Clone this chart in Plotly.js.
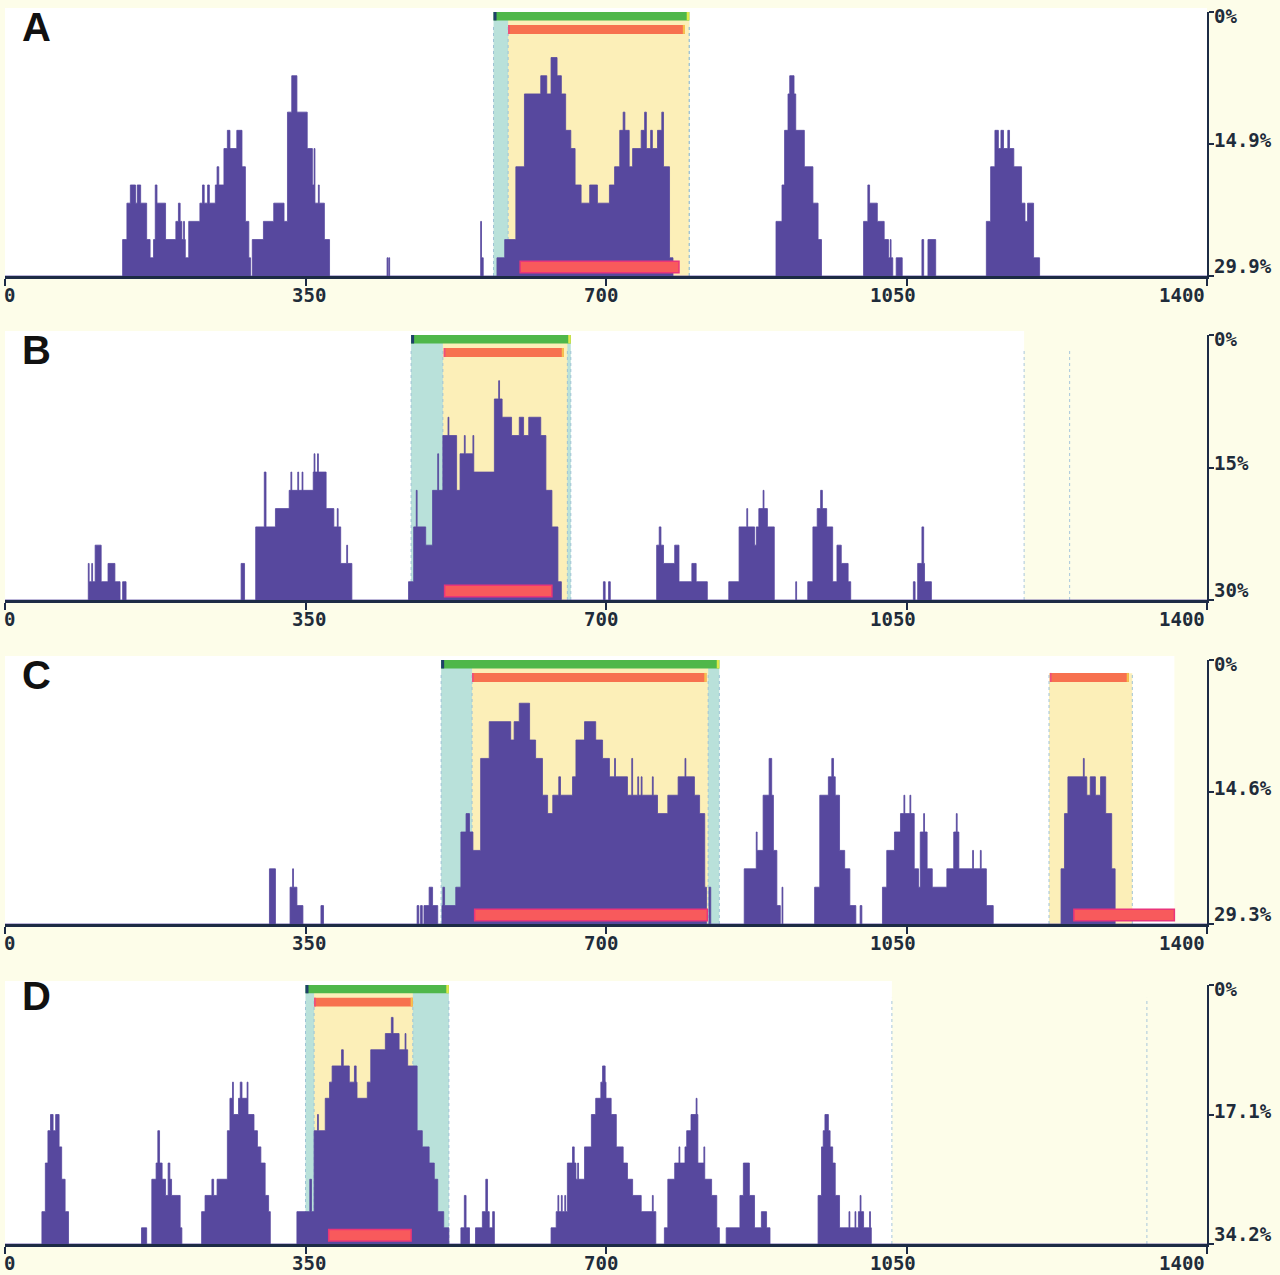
<!DOCTYPE html>
<html><head><meta charset="utf-8">
<script src="https://cdn.plot.ly/plotly-3.0.1.min.js"></script>
<style>html,body{margin:0;padding:0;background:#fdfde9;overflow:hidden}#chart{width:1280px;height:1275px}</style>
</head><body><div id="chart"></div>
<script>
// ---------- DATA ----------
// step histograms: [sequence position where a step starts, count of sequences from there]
const A_steps = [[0,0],[137,2],[142,4],[146,5],[152,4],[154,5],[158,4],[165,2],[169,1],[173,2],[175,5],[177,4],[187,2],[199,3],[202,4],[204,3],[206,2],[208,3],[209,2],[210,1],[214,3],[227,4],[230,5],[232,4],[236,5],[238,4],[245,5],[247,6],[249,5],[255,7],[259,8],[262,7],[270,8],[276,6],[280,3],[284,1],[286,0],[288,2],[301,3],[313,4],[325,3],[329,9],[334,11],[340,9],[352,7],[358,5],[360,7],[361,4],[365,5],[366,4],[372,2],[378,0],[445,1],[446,0],[447,1],[448,0],[554,3],[555,1],[557,0],[573,1],[582,2],[595,6],[605,10],[624,11],[631,10],[636,12],[643,11],[648,10],[653,8],[659,7],[664,5],[671,4],[681,5],[690,4],[704,5],[710,6],[716,8],[720,9],[722,8],[727,6],[731,7],[741,8],[745,9],[747,7],[752,8],[754,7],[760,8],[765,9],[767,6],[774,1],[778,0],[898,3],[905,5],[908,8],[912,10],[914,11],[919,10],[921,8],[931,6],[941,4],[947,2],[951,0],[1000,3],[1005,5],[1007,4],[1016,3],[1024,2],[1029,1],[1031,2],[1032,1],[1034,0],[1038,1],[1045,0],[1068,2],[1070,0],[1075,2],[1084,0],[1143,3],[1148,6],[1153,8],[1157,7],[1160,8],[1163,7],[1168,8],[1170,7],[1175,6],[1184,4],[1188,3],[1191,4],[1198,1],[1205,0],[1400,0]];
const B_steps = [[0,0],[97,2],[98,1],[101,2],[102,1],[105,3],[112,1],[120,2],[128,1],[134,0],[137,1],[141,0],[275,2],[279,0],[292,4],[302,7],[304,4],[315,5],[331,6],[333,7],[334,6],[341,7],[342,6],[346,7],[347,6],[359,7],[360,8],[361,7],[364,8],[365,7],[374,5],[383,4],[387,5],[388,4],[391,2],[398,3],[399,2],[404,0],[470,1],[476,4],[479,6],[480,4],[490,3],[498,6],[504,8],[505,6],[510,9],[516,10],[517,9],[526,6],[530,8],[535,9],[536,8],[545,9],[546,7],[570,11],[575,12],[576,11],[579,10],[590,9],[599,10],[604,9],[610,10],[624,9],[630,6],[637,4],[644,1],[648,0],[697,1],[699,0],[703,1],[705,0],[759,3],[762,4],[764,3],[767,2],[780,3],[785,1],[800,2],[805,1],[818,0],[843,1],[855,4],[864,5],[865,4],[873,3],[875,4],[878,5],[883,6],[884,5],[888,4],[896,0],[921,1],[922,0],[935,1],[941,4],[946,5],[950,6],[952,5],[957,4],[964,1],[969,3],[974,2],[982,1],[985,0],[1058,1],[1060,0],[1063,2],[1068,4],[1070,2],[1071,1],[1079,0],[1400,0]];
const C_steps = [[0,0],[308,3],[315,0],[332,2],[335,3],[336,2],[340,1],[347,0],[368,1],[371,0],[480,1],[482,0],[484,1],[486,0],[488,1],[494,2],[498,1],[504,0],[509,1],[510,2],[512,1],[525,2],[531,5],[537,6],[541,5],[545,4],[554,9],[564,11],[589,10],[593,11],[599,12],[611,10],[618,9],[626,7],[632,6],[638,7],[645,8],[647,7],[661,8],[665,10],[675,11],[688,10],[696,9],[704,8],[710,9],[711,8],[725,7],[730,9],[731,7],[737,8],[738,7],[741,8],[742,7],[754,8],[755,7],[760,6],[772,7],[784,8],[792,9],[793,8],[803,7],[809,6],[815,2],[817,0],[820,2],[822,0],[861,3],[875,5],[876,4],[883,7],[890,9],[893,7],[895,4],[899,1],[903,0],[905,2],[906,0],[943,2],[949,7],[959,8],[963,9],[965,8],[967,7],[972,4],[978,3],[984,1],[991,0],[996,1],[998,0],[1022,2],[1027,4],[1036,5],[1043,6],[1047,7],[1048,6],[1054,7],[1055,6],[1059,3],[1064,2],[1066,5],[1070,6],[1071,5],[1074,3],[1080,2],[1097,3],[1105,5],[1108,6],[1109,5],[1111,3],[1127,4],[1128,3],[1136,4],[1137,3],[1143,1],[1151,0],[1230,3],[1234,6],[1238,8],[1256,9],[1257,8],[1260,7],[1264,8],[1270,7],[1276,8],[1282,6],[1289,3],[1293,0],[1400,0]];
const D_steps = [[0,0],[43,2],[47,5],[50,7],[53,8],[56,7],[59,8],[63,6],[66,4],[70,2],[74,0],[159,1],[165,0],[171,4],[176,5],[178,7],[180,5],[183,4],[187,3],[190,5],[192,4],[194,3],[204,1],[206,0],[229,2],[233,3],[241,4],[243,3],[247,4],[259,7],[262,9],[265,10],[266,8],[272,9],[274,10],[276,9],[282,10],[283,8],[290,7],[294,6],[298,5],[303,3],[307,2],[309,0],[340,2],[355,4],[357,2],[360,7],[364,8],[365,7],[373,9],[378,10],[381,11],[392,12],[394,11],[401,10],[407,11],[409,10],[410,9],[422,10],[426,12],[443,13],[450,14],[452,13],[459,12],[466,13],[467,12],[469,11],[480,7],[486,6],[494,5],[500,4],[504,2],[511,1],[517,0],[531,1],[535,3],[537,1],[541,0],[548,1],[556,2],[560,4],[562,2],[564,1],[568,2],[570,0],[636,1],[642,2],[644,3],[645,2],[648,3],[649,2],[652,3],[653,2],[655,5],[661,6],[663,5],[665,4],[667,5],[668,4],[675,6],[683,8],[688,9],[694,10],[696,11],[699,10],[700,9],[706,8],[712,6],[720,5],[725,4],[731,3],[741,2],[754,3],[755,2],[758,0],[768,1],[772,4],[780,5],[785,6],[786,5],[792,6],[794,7],[799,8],[805,9],[806,8],[807,5],[814,6],[815,4],[823,3],[829,1],[832,0],[840,1],[856,3],[860,5],[867,3],[873,1],[881,2],[887,1],[891,0],[947,3],[951,6],[953,7],[955,8],[959,7],[961,6],[964,5],[967,3],[972,1],[983,2],[984,1],[990,2],[991,1],[994,2],[996,3],[997,2],[1000,1],[1007,2],[1008,1],[1009,0],[1400,0]];

// axis extents (in sequence counts) and sequence lengths
const A_max = 14.5, B_max = 14.5, C_max = 14.35, D_max = 16.0;
const A_len = 1400, B_len = 1187, C_len = 1362, D_len = 1033;
const B_extraMarks = [1187, 1240];
const D_extraMarks = [1033, 1330];

// annotated regions: outer (green bar), core (yellow), top bar (orange), low bar (red)
const A_outer = [569, 797], A_core = [586, 797], A_top = [586, 792], A_low = [600, 785];
const B_outer = [473, 659], B_core = [510, 655], B_top = [511, 651], B_low = [512, 637];
const C_outer = [508, 832], C_core = [544, 819], C_top = [544, 817], C_low = [547, 818];
const C2_core = [1216, 1313], C2_top = [1217, 1309], C2_low = [1245, 1362];
const D_outer = [350, 517], D_core = [360, 475], D_top = [360, 475], D_low = [377, 473];

// tick labels
const xTickVals = [0, 350, 700, 1050, 1400];
const xTickText = ['0', '350', '700', '1050', '1400'];
const A_yTickText = ['0%', '14.9%', '29.9%'];
const B_yTickText = ['0%', '15%', '30%'];
const C_yTickText = ['0%', '14.6%', '29.3%'];
const D_yTickText = ['0%', '17.1%', '34.2%'];
const panelLetters = ['A', 'B', 'C', 'D'];

// ---------- LAYOUT ----------
const W = 1280, H = 1275;
const geom = [ {top: 12, base: 276}, {top: 335, base: 600}, {top: 660, base: 924}, {top: 985, base: 1244} ];
const xDom = [5 / W, 1207 / W];
const axisColor = '#1d2b45';
const labelFont = {family: 'DejaVu Sans Mono, monospace', size: 19, color: '#1f2c3a', weight: 'bold'};
const C_bar = '#57489e';

const panels = [
  {steps: A_steps, max: A_max, len: A_len, marks: [], yt: A_yTickText, regions: [{outer: A_outer, core: A_core, top: A_top, low: A_low}]},
  {steps: B_steps, max: B_max, len: B_len, marks: B_extraMarks, yt: B_yTickText, regions: [{outer: B_outer, core: B_core, top: B_top, low: B_low}]},
  {steps: C_steps, max: C_max, len: C_len, marks: [], yt: C_yTickText, regions: [{outer: C_outer, core: C_core, top: C_top, low: C_low}, {outer: null, core: C2_core, top: C2_top, low: C2_low}]},
  {steps: D_steps, max: D_max, len: D_len, marks: D_extraMarks, yt: D_yTickText, regions: [{outer: D_outer, core: D_core, top: D_top, low: D_low}]}
];

const data = [];
const layout = {
  width: W, height: H, margin: {l: 0, r: 0, t: 0, b: 0},
  paper_bgcolor: '#fdfde9', plot_bgcolor: '#fdfde9',
  showlegend: false, shapes: [], annotations: []
};
const xLabelAnchor = ['left', 'center', 'center', 'center', 'right'];
const xLabelShift = [-3, 3, -5, -14, 0];

panels.forEach((p, i) => {
  const n = i + 1;
  const xs = n === 1 ? 'x' : 'x' + n;
  const ys = n === 1 ? 'y' : 'y' + n;
  const g = geom[i];
  const yDom = [1 - g.base / H, 1 - g.top / H];
  layout[n === 1 ? 'xaxis' : 'xaxis' + n] = {
    domain: xDom, range: [0, 1400], anchor: ys, showline: true, linecolor: axisColor, linewidth: 2.5,
    ticks: 'outside', tickvals: xTickVals, ticklen: 7, tickwidth: 2, tickcolor: axisColor,
    showticklabels: false, showgrid: false, zeroline: false, fixedrange: true
  };
  layout[n === 1 ? 'yaxis' : 'yaxis' + n] = {
    domain: yDom, range: [0, p.max], anchor: xs, side: 'right', showline: true, linecolor: axisColor, linewidth: 2,
    ticks: 'outside', tickvals: [0, p.max / 2, p.max], ticklen: 5, tickwidth: 2, tickcolor: axisColor,
    showticklabels: false, showgrid: false, zeroline: false, fixedrange: true
  };
  data.push({
    type: 'scatter', mode: 'lines', xaxis: xs, yaxis: ys,
    x: p.steps.map(s => s[0]), y: p.steps.map(s => s[1]),
    line: {shape: 'hv', width: 0.8, color: C_bar}, fill: 'tozeroy', fillcolor: C_bar, hoverinfo: 'skip'
  });
  const yd = ys + ' domain';
  const S = layout.shapes;
  // white sequence background
  S.push({type: 'rect', xref: xs, yref: yd, x0: 0, x1: p.len, y0: 0, y1: 1.015, fillcolor: '#ffffff', line: {width: 0}, layer: 'below'});
  p.regions.forEach(r => {
    if (r.outer) S.push({type: 'rect', xref: xs, yref: yd, x0: r.outer[0], x1: r.outer[1], y0: 0, y1: 1, fillcolor: '#b9e1da', line: {width: 0}, layer: 'below'});
    S.push({type: 'rect', xref: xs, yref: yd, x0: r.core[0], x1: r.core[1], y0: 0, y1: r.outer ? 1 : 0.95, fillcolor: '#fcefb8', line: {width: 0}, layer: 'below'});
    const bounds = r.outer ? [r.outer[0], r.core[0], r.core[1], r.outer[1]] : [r.core[0], r.core[1]];
    bounds.forEach(b => S.push({type: 'line', xref: xs, yref: yd, x0: b, x1: b, y0: 0, y1: 0.95, line: {color: '#9ec3d6', width: 1, dash: 'dot'}, layer: 'below'}));
    if (r.outer) {
      S.push({type: 'rect', xref: xs, yref: yd, x0: r.outer[0], x1: r.outer[1], y0: 0.968, y1: 1.0, fillcolor: '#4fb74a', line: {width: 0}, layer: 'above'});
      S.push({type: 'rect', xref: xs, yref: yd, x0: r.outer[0], x1: r.outer[0] + 3.5, y0: 0.968, y1: 1.0, fillcolor: '#1f3f6a', line: {width: 0}, layer: 'above'});
      S.push({type: 'rect', xref: xs, yref: yd, x0: r.outer[1] - 3, x1: r.outer[1], y0: 0.968, y1: 1.0, fillcolor: '#dfe94a', line: {width: 0}, layer: 'above'});
    }
    S.push({type: 'rect', xref: xs, yref: yd, x0: r.top[0], x1: r.top[1], y0: 0.917, y1: 0.951, fillcolor: '#f7714f', line: {width: 0}, layer: 'above'});
    S.push({type: 'rect', xref: xs, yref: yd, x0: r.top[0], x1: r.top[0] + 2, y0: 0.917, y1: 0.951, fillcolor: '#ee4f7c', line: {width: 0}, layer: 'above'});
    S.push({type: 'rect', xref: xs, yref: yd, x0: r.top[1] - 2.5, x1: r.top[1], y0: 0.917, y1: 0.951, fillcolor: '#f6c24e', line: {width: 0}, layer: 'above'});
    S.push({type: 'rect', xref: xs, yref: yd, x0: r.low[0], x1: r.low[1], y0: 0.012, y1: 0.056, fillcolor: '#f85a5c', line: {width: 1.5, color: '#e9357a'}, layer: 'above'});
  });
  p.marks.forEach(m => S.push({type: 'line', xref: xs, yref: yd, x0: m, x1: m, y0: 0, y1: 0.95, line: {color: '#a9c7dc', width: 1, dash: 'dot'}, layer: 'below'}));

  const A = layout.annotations;
  A.push({xref: 'paper', x: 36 / W, yref: yd, y: 1, yanchor: 'middle', xanchor: 'center', yshift: i === 3 ? -11 : -15,
    text: panelLetters[i], showarrow: false, font: {family: 'Liberation Sans, Arial, sans-serif', size: 40, color: '#111111', weight: 'bold'}});
  const yPos = [p.max, p.max / 2, 0];
  const yShift = [-4, 4, 10];
  p.yt.forEach((t, k) => A.push({xref: 'paper', x: 1212 / W, xanchor: 'left', yref: ys, y: yPos[k], yanchor: 'middle', yshift: yShift[k],
    text: t, showarrow: false, font: labelFont}));
  xTickText.forEach((t, k) => A.push({xref: xs, x: xTickVals[k], xanchor: xLabelAnchor[k], xshift: xLabelShift[k], yref: yd, y: 0, yanchor: 'middle', yshift: -19,
    text: t, showarrow: false, font: labelFont}));
});

Plotly.newPlot('chart', data, layout, {staticPlot: true, displayModeBar: false});
</script>
</body></html>
